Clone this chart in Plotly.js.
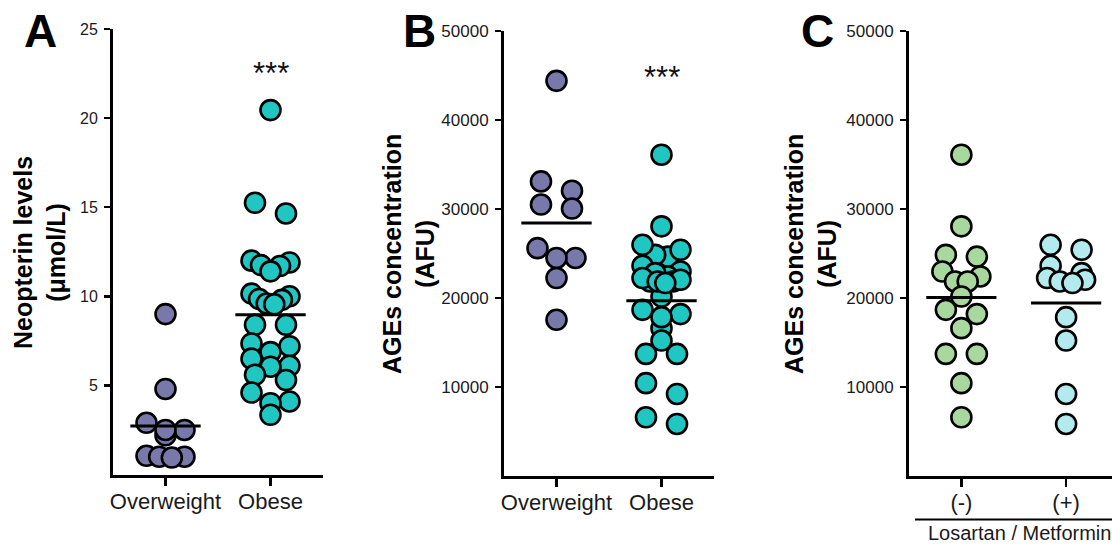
<!DOCTYPE html>
<html><head><meta charset="utf-8">
<script src="https://cdn.plot.ly/plotly-3.0.1.min.js"></script>
<style>html,body{margin:0;padding:0;background:#fff}#chart{width:1112px;height:545px}</style>
</head><body><div id="chart"></div>
<script>
// ---------- data ----------
const groupsAB = ["Overweight", "Obese"];
const groupsC = ["(-)", "(+)"];
const treatmentLabel = "Losartan / Metformin";

// Panel A: Neopterin levels (µmol/L)
const neopterinOverweight = [9.0, 4.8, 2.9, 2.5, 2.2, 2.5, 1.05, 1.0, 1.0, 0.95];
const neopterinObese = [20.45, 15.25, 14.65, 12.0, 11.9, 11.75, 11.7, 11.4, 10.15, 10.0, 9.85, 9.8, 9.6, 9.55,
  8.4, 8.4, 7.35, 7.2, 6.87, 6.5, 6.1, 6.05, 5.6, 5.3, 4.6, 4.1, 4.0, 3.35];
const neopterinMeans = [2.72, 8.97];

// Panel B/C: AGEs concentration (AFU)
const agesOverweight = [44400, 33100, 32050, 30500, 30050, 25600, 24500, 24500, 22250, 17550];
const agesLosartanMinus = [36100, 28050, 24650, 24850, 22980, 22420, 21860, 21860, 20170, 18670, 18190, 16610,
  13720, 13720, 10430, 6600];
const agesLosartanPlus = [25980, 25420, 23620, 22800, 22050, 22240, 21860, 21680, 17850, 15220, 9220, 5850];
const agesObese = agesLosartanMinus.concat(agesLosartanPlus);
const agesMeansB = [28420, 19700];
const agesMeansC = [20050, 19430];

// ---------- layout geometry ----------
const W = 1112, H = 545;
const px = v => v / W;
const py = v => 1 - v / H;
const FONT = "Liberation Sans, Arial, Helvetica, sans-serif";
const COL_OW = "#7878aa", COL_OB = "#1fc6c2", COL_NEG = "#a8d89e", COL_POS = "#b2eaee";
const MSIZE = 20, MLINE = 2.6;

const panels = {
  A: {x0: 113, x1: 323, y0: 474.5, y1: 29, ymax: 25, xmax: 1.5},
  B: {x0: 504, x1: 714, y0: 476, y1: 31, ymax: 50000, xmax: 1.5},
  C: {x0: 909, x1: 1112, y0: 476, y1: 31, ymax: 50000, xmax: -0.5 + (1112 - 908.5) / 105}
};
function pxPerUnit(p) { return (p.y0 - p.y1) / p.ymax; }
function pxPerCat(p) { return (p.x1 - p.x0) / (p.xmax + 0.5); }

// Prism-like symmetric spreading of points that are close in value
function swarm(values, p) {
  const ppu = pxPerUnit(p), ppc = pxPerCat(p);
  const BIN_PX = 12, MAX_HALF = 19, PAIR_GAP = 31;
  const n = values.length;
  const idx = values.map((v, i) => i).sort((a, b) => values[b] - values[a]);
  const off = new Array(n).fill(0);
  let i = 0;
  while (i < n) {
    const top = values[idx[i]];
    let j = i;
    while (j + 1 < n && (top - values[idx[j + 1]]) * ppu <= BIN_PX) j++;
    const bin = idx.slice(i, j + 1);
    const m = bin.length;
    const half = m === 1 ? 0 : Math.min(MAX_HALF, (m - 1) * PAIR_GAP / 2);
    const slots = [];
    for (let k = 0; k < m; k++) slots.push(m === 1 ? 0 : -half + 2 * half * k / (m - 1));
    const order = [];
    let lo = 0, hi = m - 1, left = true;
    while (lo <= hi) { if (left) order.push(lo++); else order.push(hi--); left = !left; }
    bin.forEach((pt, k) => { off[pt] = slots[order[k]] / ppc; });
    i = j + 1;
  }
  return off;
}

function dots(values, gi, p, color, xa, ya) {
  const off = swarm(values, p);
  return {
    type: "scatter", mode: "markers", xaxis: xa, yaxis: ya, hoverinfo: "y",
    x: values.map((v, i) => gi + off[i]), y: values,
    marker: {size: MSIZE, color: color, line: {color: "#000", width: MLINE}},
    cliponaxis: false, showlegend: false
  };
}
function meanLine(mean, gi, xa, ya) {
  return {
    type: "scatter", mode: "lines", xaxis: xa, yaxis: ya, hoverinfo: "skip",
    x: [gi - 0.335, gi + 0.335], y: [mean, mean],
    line: {color: "#000", width: 3}, showlegend: false
  };
}

const traces = [
  dots(neopterinOverweight, 0, panels.A, COL_OW, "x", "y"),
  dots(neopterinObese, 1, panels.A, COL_OB, "x", "y"),
  dots(agesOverweight, 0, panels.B, COL_OW, "x2", "y2"),
  dots(agesObese, 1, panels.B, COL_OB, "x2", "y2"),
  dots(agesLosartanMinus, 0, panels.C, COL_NEG, "x3", "y3"),
  dots(agesLosartanPlus, 1, panels.C, COL_POS, "x3", "y3"),
  meanLine(neopterinMeans[0], 0, "x", "y"),
  meanLine(neopterinMeans[1], 1, "x", "y"),
  meanLine(agesMeansB[0], 0, "x2", "y2"),
  meanLine(agesMeansB[1], 1, "x2", "y2"),
  meanLine(agesMeansC[0], 0, "x3", "y3"),
  meanLine(agesMeansC[1], 1, "x3", "y3")
];

function xAxis(p, labels, anchor) {
  return {
    domain: [px(p.x0), px(p.x1)], range: [-0.5, p.xmax], anchor: anchor,
    tickvals: [0, 1], ticktext: labels, showline: true, linewidth: 3, linecolor: "#000",
    ticks: "outside", ticklen: 8, tickwidth: 2.5, tickcolor: "#000",
    showgrid: false, zeroline: false, fixedrange: true, ticklabelstandoff: -3,
    tickfont: {family: FONT, size: 22, color: "#1a1a1a"}
  };
}
function yAxis(p, tv, anchor, fs) {
  return {
    domain: [py(p.y0), py(p.y1)], range: [0, p.ymax], anchor: anchor,
    tickvals: tv, tickformat: "d", showline: true, linewidth: 3, linecolor: "#000",
    ticks: "outside", ticklen: 6, tickwidth: 2.5, tickcolor: "#000",
    showgrid: false, zeroline: false, fixedrange: true, ticklabelstandoff: 3,
    tickfont: {family: FONT, size: fs, color: "#1a1a1a"}
  };
}
const agesTicks = [10000, 20000, 30000, 40000, 50000];

function letter(t, xc) {
  return {xref: "paper", yref: "paper", x: px(xc), y: py(31), xanchor: "center", yanchor: "middle",
    text: t, showarrow: false, font: {family: FONT, size: 46, color: "#000", weight: "bold"}};
}
function ytitle(t, xc, yc) {
  return {xref: "paper", yref: "paper", x: px(xc), y: py(yc), xanchor: "center", yanchor: "middle",
    text: t, textangle: -90, showarrow: false, font: {family: FONT, size: 25, color: "#000", weight: "bold"}};
}

const layout = {
  width: W, height: H, margin: {l: 0, r: 0, t: 0, b: 0},
  paper_bgcolor: "#fff", plot_bgcolor: "rgba(0,0,0,0)", showlegend: false,
  font: {family: FONT, color: "#000"},
  xaxis: xAxis(panels.A, groupsAB, "y"),
  yaxis: yAxis(panels.A, [5, 10, 15, 20, 25], "x", 16),
  xaxis2: xAxis(panels.B, groupsAB, "y2"),
  yaxis2: yAxis(panels.B, agesTicks, "x2", 17),
  xaxis3: xAxis(panels.C, groupsC, "y3"),
  yaxis3: yAxis(panels.C, agesTicks, "x3", 17),
  annotations: [
    letter("A", 40), letter("B", 419), letter("C", 817),
    ytitle("<b>Neopterin levels</b><br><b>(</b>μ<b>mol/L)</b>", 40, 253),
    ytitle("<b>AGEs concentration</b><br><b>(AFU)</b>", 408, 254),
    ytitle("<b>AGEs concentration</b><br><b>(AFU)</b>", 810, 254),
    {xref: "x", yref: "y", x: 1, y: 22.5, text: "***", showarrow: false, xanchor: "center", yanchor: "middle",
      font: {family: FONT, size: 31, color: "#111"}},
    {xref: "x2", yref: "y2", x: 1, y: 44800, text: "***", showarrow: false, xanchor: "center", yanchor: "middle",
      font: {family: FONT, size: 31, color: "#111"}},
    {xref: "paper", yref: "paper", x: px(926), y: py(533), xanchor: "left", yanchor: "middle",
      text: treatmentLabel, showarrow: false, font: {family: FONT, size: 20, color: "#1a1a1a"}}
  ],
  shapes: [
    {type: "line", xref: "paper", yref: "paper", x0: px(915), x1: px(1112), y0: py(519.5), y1: py(519.5),
      line: {color: "#000", width: 2}}
  ]
};

Plotly.newPlot("chart", traces, layout, {staticPlot: true, displayModeBar: false});
</script>
</body></html>
